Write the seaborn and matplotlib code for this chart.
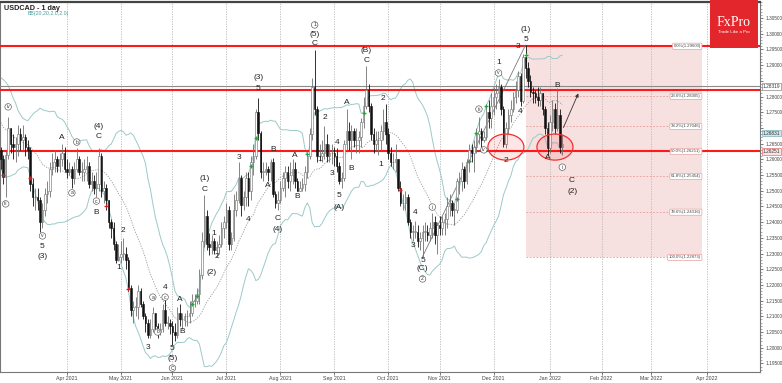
import numpy as np
import pandas as pd
import matplotlib
matplotlib.use("Agg")
import matplotlib.pyplot as plt
import matplotlib.transforms as mtransforms
from matplotlib.patches import Ellipse, Rectangle
import seaborn as sns

sns.set_theme(style="white")
plt.rcParams['font.family'] = ['Liberation Sans', 'DejaVu Sans']

# ---- daily USDCAD bars, 23 Feb 2021 .. 10 Jan 2022 ----
close = [
    1.2600, 1.2545, 1.2615, 1.2700,
    # Mar
    1.2650, 1.2640, 1.2650, 1.2680, 1.2660,
    1.2670, 1.2640, 1.2630, 1.2520, 1.2480,
    1.2480, 1.2470, 1.2400, 1.2440, 1.2490,
    1.2500, 1.2570, 1.2590, 1.2600, 1.2580,
    1.2600, 1.2620, 1.2570,
    # Apr
    1.2560, 1.2570,
    1.2540, 1.2570, 1.2600, 1.2560, 1.2560,
    1.2570, 1.2580, 1.2520, 1.2530, 1.2510,
    1.2520, 1.2610, 1.2500, 1.2510, 1.2470,
    1.2400, 1.2380, 1.2330, 1.2280, 1.2290,
    # May
    1.2300, 1.2300, 1.2280, 1.2190, 1.2120,
    1.2130, 1.2130, 1.2180, 1.2140, 1.2100,
    1.2080, 1.2040, 1.2060, 1.2110, 1.2070,
    1.2050, 1.2060, 1.2120, 1.2080, 1.2080,
    1.2070,
    # Jun
    1.2050, 1.2040, 1.2110, 1.2090,
    1.2090, 1.2100, 1.2100, 1.2110, 1.2150,
    1.2150, 1.2170, 1.2230, 1.2340, 1.2420,
    1.2330, 1.2320, 1.2340, 1.2310, 1.2320,
    1.2330, 1.2380, 1.2400,
    # Jul
    1.2440, 1.2330,
    1.2350, 1.2440, 1.2470, 1.2540, 1.2455,
    1.2480, 1.2540, 1.2500, 1.2590, 1.2610,
    1.2750, 1.2685, 1.2560, 1.2560, 1.2570,
    1.2560, 1.2590, 1.2490, 1.2460, 1.2470,
    # Aug
    1.2510, 1.2540, 1.2560, 1.2530, 1.2550,
    1.2570, 1.2530, 1.2500, 1.2510, 1.2520,
    1.2560, 1.2610, 1.2680, 1.2830, 1.2760,
    1.2610, 1.2610, 1.2620, 1.2650, 1.2610,
    1.2620, 1.2620,
    # Sep
    1.2610, 1.2580, 1.2530,
    1.2540, 1.2650, 1.2690, 1.2660, 1.2690,
    1.2660, 1.2660, 1.2670, 1.2720, 1.2770,
    1.2820, 1.2770, 1.2680, 1.2650, 1.2660,
    1.2660, 1.2690, 1.2720, 1.2680,
    # Oct
    1.2620,
    1.2590, 1.2590, 1.2600, 1.2510, 1.2460,
    1.2460, 1.2480, 1.2400, 1.2370, 1.2370,
    1.2370, 1.2340, 1.2350, 1.2370, 1.2370,
    1.2360, 1.2380, 1.2400, 1.2360, 1.2390,
    # Nov
    1.2380, 1.2400, 1.2410, 1.2450, 1.2460,
    1.2440, 1.2440, 1.2530, 1.2530, 1.2570,
    1.2530, 1.2590, 1.2630, 1.2620, 1.2640,
    1.2680, 1.2690, 1.2660, 1.2670, 1.2750,
    1.2730, 1.2770,
    # Dec
    1.2800, 1.2810, 1.2830,
    1.2760, 1.2650, 1.2700, 1.2740, 1.2760,
    1.2800, 1.2820, 1.2865, 1.2785, 1.2925,
    1.2890, 1.2850, 1.2815, 1.2810, 1.2800,
    1.2790, 1.2810, 1.2760, 1.2700, 1.2635,
    # Jan
    1.2720, 1.2760, 1.2700, 1.2740, 1.2640,
    1.2650,
]

high = [
    1.2640, 1.2615, 1.2625, 1.2735,
    1.2700, 1.2680, 1.2670, 1.2710, 1.2700,
    1.2710, 1.2680, 1.2660, 1.2640, 1.2540,
    1.2510, 1.2510, 1.2480, 1.2460, 1.2510,
    1.2530, 1.2590, 1.2620, 1.2630, 1.2610,
    1.2620, 1.2650, 1.2640,
    1.2600, 1.2590,
    1.2580, 1.2590, 1.2635, 1.2610, 1.2590,
    1.2600, 1.2610, 1.2590, 1.2560, 1.2550,
    1.2560, 1.2635, 1.2620, 1.2530, 1.2520,
    1.2470, 1.2410, 1.2400, 1.2340, 1.2330,
    1.2340, 1.2350, 1.2320, 1.2290, 1.2200,
    1.2150, 1.2160, 1.2200, 1.2190, 1.2150,
    1.2110, 1.2090, 1.2090, 1.2130, 1.2110,
    1.2080, 1.2080, 1.2140, 1.2170, 1.2100,
    1.2090,
    1.2085, 1.2080, 1.2130, 1.2140,
    1.2110, 1.2110, 1.2120, 1.2150, 1.2170,
    1.2170, 1.2190, 1.2250, 1.2370, 1.2487,
    1.2440, 1.2365, 1.2360, 1.2350, 1.2340,
    1.2360, 1.2400, 1.2420,
    1.2460, 1.2450,
    1.2370, 1.2490, 1.2500, 1.2590, 1.2550,
    1.2500, 1.2560, 1.2560, 1.2610, 1.2650,
    1.2760, 1.2795, 1.2690, 1.2590, 1.2590,
    1.2580, 1.2600, 1.2605, 1.2500, 1.2500,
    1.2530, 1.2560, 1.2580, 1.2580, 1.2590,
    1.2600, 1.2590, 1.2540, 1.2530, 1.2540,
    1.2580, 1.2620, 1.2700, 1.2860, 1.2949,
    1.2770, 1.2650, 1.2660, 1.2705, 1.2680,
    1.2650, 1.2650,
    1.2640, 1.2636, 1.2590,
    1.2560, 1.2660, 1.2760, 1.2720, 1.2710,
    1.2700, 1.2700, 1.2690, 1.2730, 1.2800,
    1.2896, 1.2840, 1.2780, 1.2700, 1.2690,
    1.2690, 1.2710, 1.2760, 1.2775,
    1.2700,
    1.2640, 1.2620, 1.2650, 1.2600, 1.2530,
    1.2490, 1.2500, 1.2490, 1.2410, 1.2390,
    1.2405, 1.2390, 1.2370, 1.2390, 1.2400,
    1.2390, 1.2400, 1.2430, 1.2420, 1.2400,
    1.2420, 1.2420, 1.2430, 1.2480, 1.2490,
    1.2470, 1.2460, 1.2540, 1.2560, 1.2590,
    1.2580, 1.2600, 1.2650, 1.2650, 1.2660,
    1.2700, 1.2735, 1.2700, 1.2690, 1.2770,
    1.2790, 1.2810,
    1.2830, 1.2840, 1.2855,
    1.2840, 1.2770, 1.2720, 1.2760, 1.2790,
    1.2815, 1.2850, 1.2880, 1.2875, 1.2935,
    1.2964, 1.2910, 1.2870, 1.2830, 1.2820,
    1.2830, 1.2830, 1.2810, 1.2770, 1.2720,
    1.2740, 1.2790, 1.2780, 1.2827, 1.2760,
    1.2680,
]

low = [
    1.2570, 1.2520, 1.2480, 1.2600,
    1.2620, 1.2600, 1.2590, 1.2610, 1.2630,
    1.2630, 1.2610, 1.2600, 1.2500, 1.2450,
    1.2440, 1.2440, 1.2370, 1.2380, 1.2420,
    1.2460, 1.2480, 1.2550, 1.2560, 1.2560,
    1.2560, 1.2580, 1.2560,
    1.2540, 1.2550,
    1.2510, 1.2520, 1.2560, 1.2550, 1.2530,
    1.2530, 1.2530, 1.2510, 1.2500, 1.2490,
    1.2480, 1.2500, 1.2480, 1.2460, 1.2440,
    1.2380, 1.2350, 1.2310, 1.2270, 1.2275,
    1.2270, 1.2280, 1.2250, 1.2180, 1.2100,
    1.2080, 1.2100, 1.2090, 1.2130, 1.2090,
    1.2050, 1.2030, 1.2030, 1.2050, 1.2050,
    1.2030, 1.2040, 1.2050, 1.2070, 1.2060,
    1.2045,
    1.2010, 1.2020, 1.2030, 1.2070,
    1.2060, 1.2070, 1.2070, 1.2080, 1.2100,
    1.2130, 1.2140, 1.2140, 1.2220, 1.2320,
    1.2310, 1.2295, 1.2300, 1.2300, 1.2290,
    1.2300, 1.2320, 1.2350,
    1.2380, 1.2310,
    1.2310, 1.2340, 1.2420, 1.2460, 1.2420,
    1.2440, 1.2450, 1.2450, 1.2470, 1.2550,
    1.2600, 1.2660, 1.2540, 1.2530, 1.2550,
    1.2530, 1.2530, 1.2480, 1.2445, 1.2440,
    1.2460, 1.2500, 1.2480, 1.2510, 1.2500,
    1.2520, 1.2510, 1.2500, 1.2505, 1.2500,
    1.2500, 1.2540, 1.2600, 1.2660, 1.2740,
    1.2590, 1.2595, 1.2590, 1.2600, 1.2590,
    1.2590, 1.2585,
    1.2580, 1.2560, 1.2520,
    1.2510, 1.2530, 1.2630, 1.2630, 1.2600,
    1.2640, 1.2620, 1.2620, 1.2640, 1.2700,
    1.2760, 1.2750, 1.2660, 1.2620, 1.2630,
    1.2615, 1.2630, 1.2660, 1.2650,
    1.2600,
    1.2580, 1.2570, 1.2560, 1.2500, 1.2450,
    1.2440, 1.2440, 1.2390, 1.2350, 1.2340,
    1.2350, 1.2320, 1.2310, 1.2290, 1.2340,
    1.2340, 1.2340, 1.2350, 1.2330, 1.2300,
    1.2360, 1.2360, 1.2360, 1.2380, 1.2420,
    1.2420, 1.2390, 1.2430, 1.2490, 1.2500,
    1.2510, 1.2520, 1.2560, 1.2590, 1.2560,
    1.2620, 1.2650, 1.2640, 1.2655, 1.2660,
    1.2700, 1.2700,
    1.2740, 1.2760, 1.2780,
    1.2740, 1.2640, 1.2635, 1.2680, 1.2720,
    1.2750, 1.2780, 1.2800, 1.2770, 1.2780,
    1.2860, 1.2830, 1.2800, 1.2780, 1.2780,
    1.2770, 1.2770, 1.2740, 1.2680, 1.2615,
    1.2620, 1.2690, 1.2680, 1.2690, 1.2620,
    1.2615,
]
first_open = 1.2630

# closes of the 19 sessions before the first bar, only used to seed the bands
warmup_close = [1.2830, 1.2780, 1.2790, 1.2810, 1.2810, 1.2780, 1.2800,
                1.2750, 1.2740, 1.2690, 1.2680, 1.2670, 1.2690, 1.2660,
                1.2660, 1.2690, 1.2690, 1.2620, 1.2600]

month_labels = ["Apr 2021", "May 2021", "Jun 2021", "Jul 2021", "Aug 2021",
                "Sep 2021", "Oct 2021", "Nov 2021", "Dec 2021", "Jan 2022",
                "Feb 2022", "Mar 2022", "Apr 2022"]

level_red = [1.2960, 1.2820, 1.26251]
level_gray = 1.28319
bid_price = 1.26831

fib_names = ["0.0%", "23.6%", "38.2%", "50.0%", "61.8%", "78.6%", "100.0%"]
fib_values = [1.29600, 1.28005, 1.27046, 1.26251, 1.25454, 1.24316, 1.22873]

# wave counts: text, date, price, circled
waves = [
    ("iii", "2021-02-25", 1.2458, True), ("iv", "2021-02-26", 1.2767, True),
    ("v", "2021-03-18", 1.2356, True), ("5", "2021-03-18", 1.2322, False),
    ("(3)", "2021-03-18", 1.2292, False), ("A", "2021-03-30", 1.2668, False),
    ("b", "2021-04-07", 1.2655, True), ("a", "2021-04-05", 1.2493, True),
    ("c", "2021-04-19", 1.2467, True), ("B", "2021-04-19", 1.2432, False),
    ("(4)", "2021-04-20", 1.2706, False), ("C", "2021-04-20", 1.2674, False),
    ("1", "2021-04-30", 1.2257, False), ("2", "2021-05-04", 1.2372, False),
    ("a", "2021-05-20", 1.2161, True), ("3", "2021-05-18", 1.2002, False),
    ("b", "2021-05-24", 1.2050, True), ("c", "2021-05-27", 1.2161, True),
    ("4", "2021-05-27", 1.2192, False), ("5", "2021-06-01", 1.1996, False),
    ("(5)", "2021-06-01", 1.1965, False), ("C", "2021-06-01", 1.1935, True),
    ("A", "2021-06-04", 1.2152, False), ("B", "2021-06-07", 1.2050, False),
    ("(1)", "2021-06-18", 1.2540, False), ("C", "2021-06-18", 1.2505, False),
    ("1", "2021-06-24", 1.2365, False), ("2", "2021-06-25", 1.2289, False),
    ("(2)", "2021-06-23", 1.2241, False), ("3", "2021-07-08", 1.2607, False),
    ("4", "2021-07-14", 1.2407, False), ("(3)", "2021-07-20", 1.2859, False),
    ("5", "2021-07-20", 1.2827, False), ("A", "2021-07-26", 1.2518, False),
    ("B", "2021-07-28", 1.2630, False), ("C", "2021-07-30", 1.2413, False),
    ("(4)", "2021-07-30", 1.2378, False), ("A", "2021-08-10", 1.2611, False),
    ("B", "2021-08-11", 1.2480, False), ("1", "2021-08-20", 1.3028, True),
    ("(5)", "2021-08-20", 1.2999, False), ("C", "2021-08-20", 1.2970, False),
    ("1", "2021-08-24", 1.2598, False), ("2", "2021-08-26", 1.2732, False),
    ("3", "2021-08-31", 1.2556, False), ("4", "2021-09-02", 1.2655, False),
    ("5", "2021-09-03", 1.2486, False), ("(A)", "2021-09-03", 1.2448, False),
    ("A", "2021-09-08", 1.2782, False), ("B", "2021-09-10", 1.2572, False),
    ("(B)", "2021-09-20", 1.2945, False), ("C", "2021-09-20", 1.2916, False),
    ("2", "2021-09-29", 1.2795, False), ("1", "2021-09-28", 1.2582, False),
    ("4", "2021-10-18", 1.2429, False), ("3", "2021-10-15", 1.2327, False),
    ("5", "2021-10-21", 1.2279, False), ("(C)", "2021-10-21", 1.2251, False),
    ("2", "2021-10-21", 1.2219, True), ("i", "2021-10-27", 1.2448, True),
    ("iii", "2021-11-23", 1.2760, True), ("iv", "2021-11-25", 1.2630, True),
    ("1", "2021-12-03", 1.2907, False), ("v", "2021-12-03", 1.2875, True),
    ("2", "2021-12-08", 1.2595, False), ("3", "2021-12-15", 1.2958, False),
    ("(1)", "2021-12-20", 1.3015, False), ("5", "2021-12-20", 1.2983, False),
    ("4", "2021-12-16", 1.2751, False), ("A", "2021-12-31", 1.2607, False),
    ("B", "2022-01-06", 1.2836, False), ("i", "2022-01-10", 1.2575, True),
    ("C", "2022-01-14", 1.2534, False), ("(2)", "2022-01-14", 1.2499, False),
]

green_marks = [("2021-06-11", 1.2139), ("2021-06-15", 1.2165), ("2021-07-15", 1.2579),
               ("2021-07-19", 1.2668), ("2021-08-17", 1.2617), ("2021-09-17", 1.2747),
               ("2021-11-10", 1.2474), ("2021-11-17", 1.2595), ("2021-11-22", 1.2684),
               ("2021-11-26", 1.2770), ("2021-12-20", 1.2932)]
red_marks = [("2021-02-24", 1.2550), ("2021-03-11", 1.2540), ("2021-04-23", 1.2451),
             ("2021-05-06", 1.2187), ("2021-10-08", 1.2502)]

# ---- frame ----
dates = pd.bdate_range("2021-02-23", "2022-01-10")
all_days = dates.append(pd.bdate_range("2022-01-11", "2022-05-31"))
pos = pd.Series(np.arange(len(all_days)), index=all_days)


def xp(d):
    return pos[pd.Timestamp(d)]


df = pd.DataFrame({"date": dates, "close": close, "high": high, "low": low})
df["open"] = [first_open] + close[:-1]
df["x"] = np.arange(len(df))

s = pd.Series(warmup_close + close)
mid = s.rolling(20).mean().iloc[len(warmup_close):].to_numpy()
sd = s.rolling(20).std(ddof=0).iloc[len(warmup_close):].to_numpy()
bands = pd.DataFrame({"x": df["x"], "mid": mid, "up": mid + 2 * sd, "dn": mid - 2 * sd})

fig = plt.figure(figsize=(7.82, 3.83), dpi=100)
ax = fig.add_axes([0.0, 11 / 383, 760 / 782, 370 / 383])
x0 = xp("2021-04-01") - 67 / 2.452
x1 = xp("2021-04-01") + 693 / 2.452
ax.set_xlim(x0, x1)
ax.set_ylim(1.19226, 1.31010)

# fibo zone
fx0, fx1 = xp("2021-12-20"), xp("2022-03-30")
ax.add_patch(Rectangle((fx0, fib_values[-1]), fx1 - fx0, fib_values[0] - fib_values[-1],
                       facecolor="#f7e0e0", edgecolor="none", zorder=0))
for name, v in zip(fib_names, fib_values):
    ax.plot([fx0, fx1], [v, v], color="#e59a9a", lw=0.6, ls=(0, (2, 2)), zorder=1)
    ax.text(fx1 - 0.5, v, f"{name}({v:.5f})", ha="right", va="center", fontsize=3.1,
            color="#444", zorder=6,
            bbox=dict(boxstyle="round,pad=0.25", fc="white", ec="#e7a3a3", lw=0.5))

# month grid
first_days = all_days.to_series().groupby(all_days.to_period("M")).first()
tick_x = [pos[d] for d in first_days if d >= pd.Timestamp("2021-04-01")][:len(month_labels)]
ax.set_xticks(tick_x)
ax.set_xticklabels(month_labels)
ax.grid(axis="x", color="#b8b8b8", ls=(0, (1.5, 1.5)), lw=0.6)
ax.grid(axis="y", visible=False)

# bands
sns.lineplot(data=bands, x="x", y="up", ax=ax, color="#9cc9c9", lw=0.7, zorder=2)
sns.lineplot(data=bands, x="x", y="dn", ax=ax, color="#9cc9c9", lw=0.7, zorder=2)
sns.lineplot(data=bands, x="x", y="mid", ax=ax, color="#9a9a9a", lw=0.6,
             linestyle=(0, (1.5, 1.5)), zorder=2)

# levels
for v in level_red:
    ax.axhline(v, color="#ff1a1a", lw=1.5, zorder=3)
ax.axhline(level_gray, color="#8a8a8a", lw=0.8, zorder=3)

# candles
bull = df["close"] >= df["open"]
top = np.maximum(df["open"], df["close"])
bot = np.minimum(df["open"], df["close"])
hi = np.maximum(df["high"], top)
lo = np.minimum(df["low"], bot)
ax.vlines(df["x"][bull], lo[bull], hi[bull], color="#707070", lw=0.6, zorder=4)
ax.vlines(df["x"][~bull], lo[~bull], hi[~bull], color="#111111", lw=0.6, zorder=4)
ht = np.maximum(top - bot, 0.00015)
ax.bar(df["x"][bull], ht[bull], bottom=bot[bull], width=0.62, color="white",
       edgecolor="#6a6a6a", lw=0.4, zorder=5)
ax.bar(df["x"][~bull], ht[~bull], bottom=bot[~bull], width=0.62, color="#111111",
       edgecolor="#111111", lw=0.4, zorder=5)

# trend line and projection arrow
ax.plot([xp("2021-10-21"), xp("2021-12-20")], [1.2290, 1.2964], color="#7a7a7a", lw=0.6, zorder=3)
ax.annotate("", xy=(xp("2022-01-19"), 1.2818), xytext=(xp("2022-01-10"), 1.2693),
            arrowprops=dict(arrowstyle="-|>", color="#333333", lw=0.6, mutation_scale=5),
            zorder=6)

# circles
for d in ["2021-12-08", "2022-01-05"]:
    ax.add_patch(Ellipse((xp(d), 1.2639), 14.7, 0.0083, facecolor=(1, 0, 0, 0.10),
                         edgecolor="#f03030", lw=0.9, zorder=6))

# markers
gm = pd.DataFrame({"x": [xp(d) for d, _ in green_marks], "y": [p for _, p in green_marks]})
rm = pd.DataFrame({"x": [xp(d) for d, _ in red_marks], "y": [p for _, p in red_marks]})
sns.scatterplot(data=gm, x="x", y="y", ax=ax, marker="+", color="#2e9e3e", s=9, lw=0.9, zorder=7)
sns.scatterplot(data=rm, x="x", y="y", ax=ax, marker="+", color="#d02020", s=9, lw=0.9, zorder=7)

# wave labels
for txt, d, p, circ in waves:
    if circ:
        ax.text(xp(d), p, txt, ha="center", va="center", fontsize=3.6, color="#333", zorder=8,
                bbox=dict(boxstyle="circle,pad=0.15", fc="white", ec="#555", lw=0.45))
    else:
        ax.text(xp(d), p, txt, ha="center", va="center", fontsize=6, color="#222", zorder=8)

# axes cosmetics
ax.set_xlabel("")
ax.set_ylabel("")
ax.yaxis.tick_right()
boxes = [(level_gray, "white", "#888888"), (bid_price, "#cfe6ea", "#7fb0b8"),
         (level_red[2], "#fbe3e3", "#e07070")]
yt = np.round(np.arange(1.195, 1.3051, 0.005), 3)
ax.set_yticks(yt)
ax.set_yticklabels(["" if min(abs(t - b[0]) for b in boxes) < 0.0019 else f"{t:.5f}"
                    for t in yt])
ax.yaxis.set_minor_locator(matplotlib.ticker.MultipleLocator(0.001))
ax.tick_params(axis="y", which="major", right=True, length=2.5, width=0.5, labelsize=3.4,
               pad=1.2, colors="#444")
ax.tick_params(axis="y", which="minor", right=True, length=1.2, width=0.4, colors="#666")
ax.tick_params(axis="x", bottom=True, length=2, width=0.5, labelsize=3.8, pad=1, colors="#444")
for sp in ax.spines.values():
    sp.set_color("#777777")
    sp.set_linewidth(0.8)
ax.spines["top"].set_color("#444444")
ax.spines["top"].set_linewidth(1.6)

# right axis price boxes
tr = mtransforms.blended_transform_factory(ax.transAxes, ax.transData)
for val, fc, ec in boxes:
    ax.text(1.004, val, f"{val:.5f}", transform=tr, fontsize=3.4, color="#333",
            va="center", ha="left", zorder=9, clip_on=False,
            bbox=dict(boxstyle="square,pad=0.15", fc=fc, ec=ec, lw=0.5))

# titles
fig.text(4 / 782, 1 - 5 / 383, "USDCAD - 1 day", fontsize=5.2, weight="bold", color="#222",
         ha="left", va="top")
fig.text(28 / 782, 1 - 11 / 383, "BB(20,20,2.0,2.0)", fontsize=3.8, color="#4a9a9a",
         ha="left", va="top")

# logo
fig.patches.append(Rectangle((710 / 782, 1 - 48 / 383), 48 / 782, 48 / 383,
                             transform=fig.transFigure, facecolor="#e3262b",
                             edgecolor="none", zorder=10))
fig.text(734 / 782, 1 - 22 / 383, "FxPro", fontsize=10, color="white", ha="center",
         va="center", family=["Liberation Serif", "DejaVu Serif"], zorder=11)
fig.text(734 / 782, 1 - 32 / 383, "Trade Like a Pro", fontsize=3.2, color="white",
         ha="center", va="center", zorder=11)

fig.savefig("out.png", dpi=100)
